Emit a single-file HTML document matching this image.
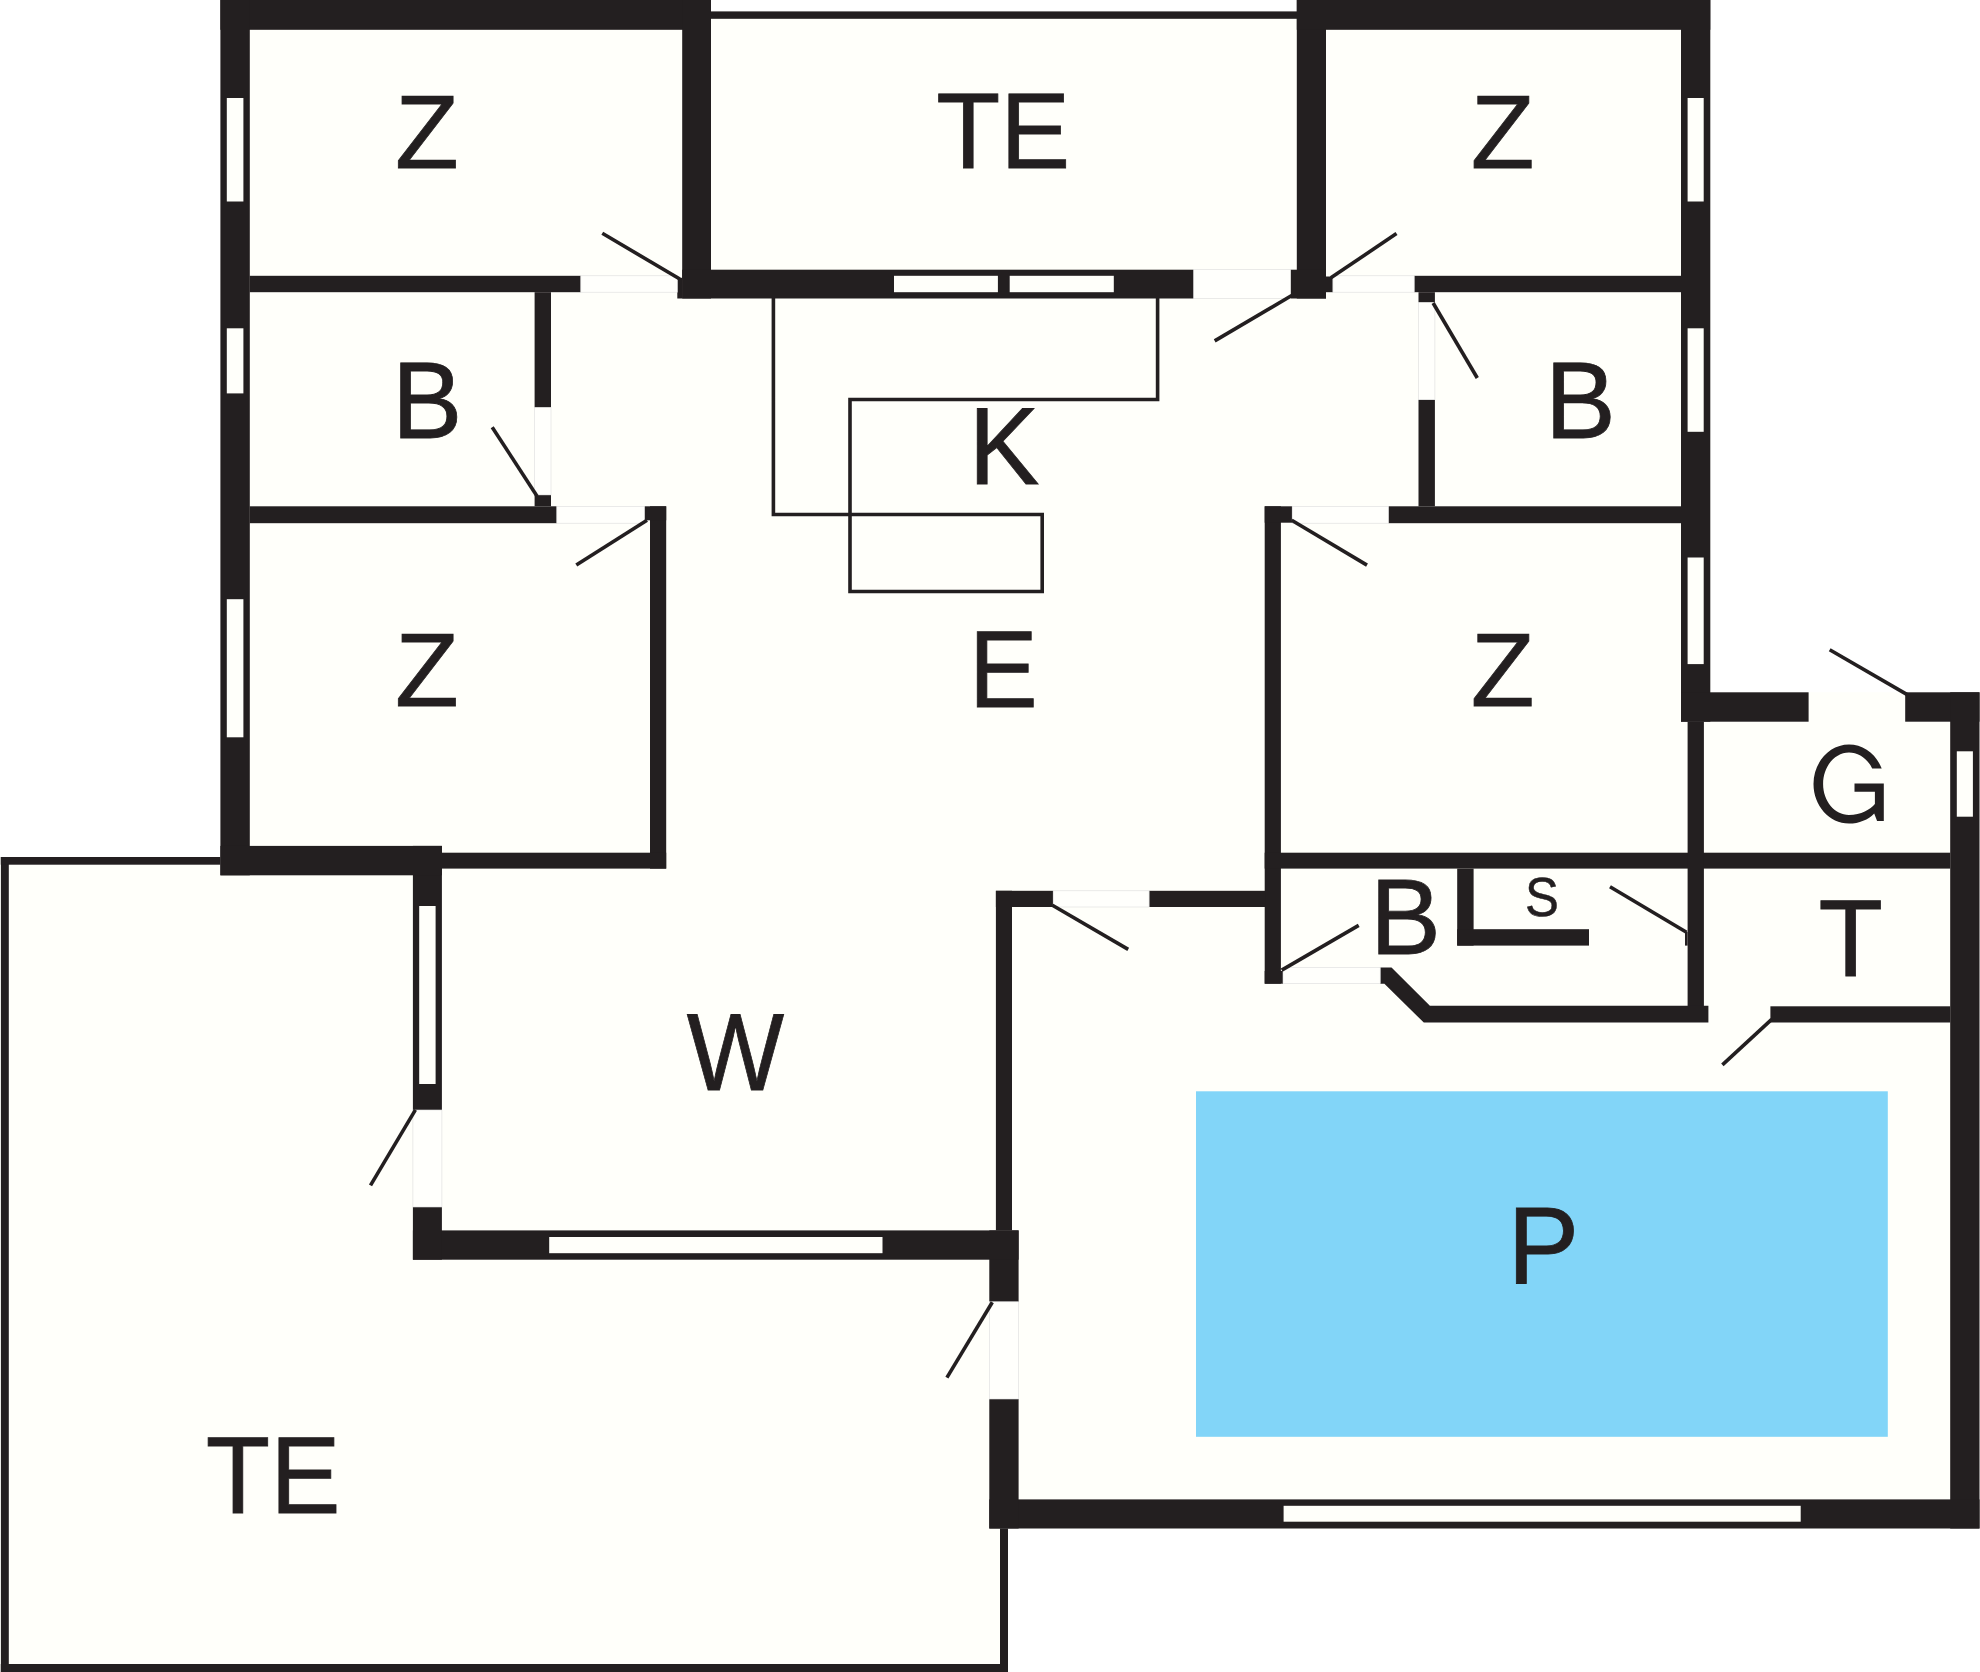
<!DOCTYPE html>
<html><head><meta charset="utf-8"><title>Floor plan</title>
<style>html,body{margin:0;padding:0;background:#fff;}svg{display:block}text{font-family:"Liberation Sans",sans-serif;fill:#231f20;}</style></head><body>
<svg width="1980" height="1672" viewBox="0 0 1980 1672">
<rect width="1980" height="1672" fill="#fff"/>
<polygon fill="#fffffa" points="220.4,0 711,0 711,11.4 1297,11.4 1297,0 1710.3,0 1710.3,692.3 1980,692.3 1980,1528.5 1008,1528.5 1008,1672 0,1672 0,857 220.4,857"/>
<rect x="1196.0" y="1091.3" width="691.8" height="345.5" fill="#82d5f8"/>
<g shape-rendering="auto">
<rect x="220.4" y="0.0" width="490.6" height="29.8" fill="#231f20"/>
<rect x="220.4" y="0.0" width="29.4" height="875.3" fill="#231f20"/>
<rect x="682.2" y="0.0" width="28.8" height="298.5" fill="#231f20"/>
<rect x="682.2" y="269.7" width="511.5" height="28.8" fill="#231f20"/>
<rect x="677.3" y="277.8" width="4.9" height="20.7" fill="#231f20"/>
<rect x="1296.8" y="0.0" width="29.2" height="298.5" fill="#231f20"/>
<rect x="1290.5" y="269.7" width="35.5" height="28.8" fill="#231f20"/>
<rect x="1326.0" y="276.5" width="6.9" height="15.7" fill="#231f20"/>
<rect x="1296.8" y="0.0" width="413.5" height="29.8" fill="#231f20"/>
<rect x="1681.0" y="0.0" width="29.3" height="721.7" fill="#231f20"/>
<rect x="1681.0" y="692.3" width="127.6" height="29.4" fill="#231f20"/>
<rect x="1905.2" y="692.3" width="74.3" height="29.4" fill="#231f20"/>
<rect x="1950.2" y="692.3" width="29.3" height="836.2" fill="#231f20"/>
<rect x="989.3" y="1499.4" width="990.2" height="29.1" fill="#231f20"/>
<rect x="989.3" y="1399.0" width="29.3" height="129.5" fill="#231f20"/>
<rect x="989.3" y="1230.4" width="29.3" height="71.4" fill="#231f20"/>
<rect x="412.9" y="1230.4" width="605.7" height="29.3" fill="#231f20"/>
<rect x="412.9" y="1207.0" width="29.0" height="52.7" fill="#231f20"/>
<rect x="412.9" y="845.9" width="29.0" height="264.1" fill="#231f20"/>
<rect x="220.4" y="845.9" width="221.5" height="29.4" fill="#231f20"/>
<rect x="249.7" y="275.8" width="331.1" height="16.4" fill="#231f20"/>
<rect x="534.6" y="292.2" width="16.4" height="115.3" fill="#231f20"/>
<rect x="534.6" y="494.9" width="16.4" height="11.4" fill="#231f20"/>
<rect x="249.7" y="506.3" width="307.1" height="16.9" fill="#231f20"/>
<rect x="650.0" y="506.3" width="16.2" height="362.3" fill="#231f20"/>
<rect x="644.4" y="506.3" width="21.8" height="14.0" fill="#231f20"/>
<rect x="441.9" y="852.7" width="224.3" height="15.9" fill="#231f20"/>
<rect x="1414.2" y="275.8" width="266.8" height="16.4" fill="#231f20"/>
<rect x="1418.5" y="292.2" width="16.4" height="10.3" fill="#231f20"/>
<rect x="1418.5" y="399.7" width="16.4" height="106.6" fill="#231f20"/>
<rect x="1388.4" y="506.3" width="292.6" height="16.9" fill="#231f20"/>
<rect x="1264.7" y="506.3" width="16.2" height="477.4" fill="#231f20"/>
<rect x="1264.7" y="506.3" width="27.5" height="16.4" fill="#231f20"/>
<rect x="1264.7" y="971.0" width="18.3" height="12.7" fill="#231f20"/>
<rect x="1264.7" y="852.7" width="685.5" height="15.9" fill="#231f20"/>
<rect x="995.9" y="890.8" width="57.3" height="16.2" fill="#231f20"/>
<rect x="1149.1" y="890.8" width="116.2" height="16.2" fill="#231f20"/>
<rect x="995.9" y="890.8" width="16.1" height="339.6" fill="#231f20"/>
<rect x="1457.2" y="868.6" width="16.4" height="77.0" fill="#231f20"/>
<rect x="1457.2" y="929.2" width="131.8" height="16.4" fill="#231f20"/>
<rect x="1687.6" y="721.7" width="16.3" height="284.6" fill="#231f20"/>
<rect x="1685.0" y="931.8" width="2.6" height="13.8" fill="#231f20"/>
<rect x="1770.4" y="1006.3" width="179.8" height="16.2" fill="#231f20"/>
<rect x="711.0" y="11.4" width="586.0" height="7.4" fill="#231f20"/>
<rect x="0.9" y="857.0" width="7.9" height="815.0" fill="#231f20"/>
<rect x="0.8" y="857.0" width="219.5" height="7.7" fill="#231f20"/>
<rect x="0.8" y="1664.0" width="1007.2" height="8.0" fill="#231f20"/>
<rect x="1000.0" y="1528.5" width="8.0" height="143.5" fill="#231f20"/>
<polygon fill="#231f20" points="1380.2,967.6 1391.5,967.6 1429.9,1005.7 1708.4,1005.7 1708.4,1022.6 1423.8,1022.6 1384.4,983.7 1380.2,983.7"/>
</g>
<rect x="226.8" y="98.0" width="16.6" height="103.5" fill="#fffffa"/>
<rect x="226.8" y="328.3" width="16.6" height="65.1" fill="#fffffa"/>
<rect x="226.8" y="599.2" width="16.6" height="138.1" fill="#fffffa"/>
<rect x="1687.6" y="98.0" width="16.1" height="103.5" fill="#fffffa"/>
<rect x="1687.6" y="328.3" width="16.1" height="103.5" fill="#fffffa"/>
<rect x="1687.6" y="557.5" width="16.1" height="106.6" fill="#fffffa"/>
<rect x="1956.8" y="751.3" width="16.1" height="65.4" fill="#fffffa"/>
<rect x="894.0" y="275.8" width="103.9" height="16.4" fill="#fffffa"/>
<rect x="1009.7" y="275.8" width="104.1" height="16.4" fill="#fffffa"/>
<rect x="419.2" y="906.0" width="16.4" height="178.0" fill="#fffffa"/>
<rect x="549.2" y="1237.0" width="333.3" height="16.2" fill="#fffffa"/>
<rect x="1283.6" y="1505.8" width="517.1" height="15.9" fill="#fffffa"/>
<rect x="580.8" y="275.8" width="96.5" height="16.4" fill="#fffffc" stroke="#dcdcdc" stroke-width="0.6"/>
<rect x="534.6" y="407.5" width="16.4" height="87.4" fill="#fffffc" stroke="#dcdcdc" stroke-width="0.6"/>
<rect x="556.8" y="506.3" width="87.6" height="16.9" fill="#fffffc" stroke="#dcdcdc" stroke-width="0.6"/>
<rect x="1193.7" y="269.7" width="96.8" height="28.8" fill="#fffffc" stroke="#dcdcdc" stroke-width="0.6"/>
<rect x="1332.9" y="275.8" width="81.3" height="16.4" fill="#fffffc" stroke="#dcdcdc" stroke-width="0.6"/>
<rect x="1418.5" y="302.5" width="16.4" height="97.2" fill="#fffffc" stroke="#dcdcdc" stroke-width="0.6"/>
<rect x="1292.2" y="506.3" width="96.2" height="16.9" fill="#fffffc" stroke="#dcdcdc" stroke-width="0.6"/>
<rect x="1053.2" y="890.8" width="95.9" height="16.2" fill="#fffffc" stroke="#dcdcdc" stroke-width="0.6"/>
<rect x="1283.0" y="967.6" width="97.2" height="16.1" fill="#fffffc" stroke="#dcdcdc" stroke-width="0.6"/>
<rect x="412.9" y="1110.0" width="29.0" height="97.0" fill="#fffffc" stroke="#dcdcdc" stroke-width="0.6"/>
<rect x="989.3" y="1301.8" width="29.3" height="97.2" fill="#fffffc" stroke="#dcdcdc" stroke-width="0.6"/>
<polyline fill="none" stroke="#231f20" stroke-width="3.6" points="773.4,297 773.4,514.5 1042.2,514.5 1042.2,591.5 850,591.5 850,399.5 1157.6,399.5 1157.6,297"/>
<g stroke="#231f20" stroke-width="3.6" stroke-linecap="butt">
<line x1="602.3" y1="233.3" x2="679.8" y2="279"/>
<line x1="492.2" y1="427.2" x2="537.1" y2="496.2"/>
<line x1="647" y1="520.2" x2="576.3" y2="565.1"/>
<line x1="1214.7" y1="340.9" x2="1291.7" y2="295.5"/>
<line x1="1330.9" y1="277.8" x2="1396.5" y2="233.6"/>
<line x1="1433.1" y1="303" x2="1477.3" y2="378"/>
<line x1="1291.7" y1="520.2" x2="1367" y2="565.1"/>
<line x1="1829.7" y1="649.7" x2="1906.8" y2="694.4"/>
<line x1="1052.4" y1="905.2" x2="1128.2" y2="949.4"/>
<line x1="1281.7" y1="970.1" x2="1358.7" y2="925.4"/>
<line x1="1610" y1="886.8" x2="1686.5" y2="932.2"/>
<line x1="1771.7" y1="1019.4" x2="1722.4" y2="1064.9"/>
<line x1="415.4" y1="1109.8" x2="370.5" y2="1185.3"/>
<line x1="992.3" y1="1302.3" x2="946.9" y2="1377.6"/>
</g>
<text id="t0" font-size="100" stroke="#231f20" stroke-width="0.767" stroke-linejoin="miter" transform="matrix(1.0442 0 0 1.0432 395.04 168.10)">Z</text>
<text id="t1" font-size="100" stroke="#231f20" stroke-width="0.751" stroke-linejoin="miter" transform="matrix(1.0491 0 0 1.0817 936.24 167.90)">TE</text>
<text id="t2" font-size="100" stroke="#231f20" stroke-width="0.767" stroke-linejoin="miter" transform="matrix(1.0442 0 0 1.0432 1470.84 168.10)">Z</text>
<text id="t3" font-size="100" stroke="#231f20" stroke-width="0.744" stroke-linejoin="miter" transform="matrix(1.0560 0 0 1.0933 391.99 437.60)">B</text>
<text id="t4" font-size="100" stroke="#231f20" stroke-width="0.743" stroke-linejoin="miter" transform="matrix(1.0638 0 0 1.0904 968.52 484.10)">K</text>
<text id="t5" font-size="100" stroke="#231f20" stroke-width="0.742" stroke-linejoin="miter" transform="matrix(1.0616 0 0 1.0933 1545.04 437.60)">B</text>
<text id="t6" font-size="100" stroke="#231f20" stroke-width="0.766" stroke-linejoin="miter" transform="matrix(1.0442 0 0 1.0454 395.04 706.30)">Z</text>
<text id="t7" font-size="100" stroke="#231f20" stroke-width="0.754" stroke-linejoin="miter" transform="matrix(1.0346 0 0 1.0875 968.76 706.60)">E</text>
<text id="t8" font-size="100" stroke="#231f20" stroke-width="0.766" stroke-linejoin="miter" transform="matrix(1.0442 0 0 1.0454 1470.84 706.30)">Z</text>
<path id="t9" fill="#231f20" d="M1881.7,768.5 C1876.1,754 1863.2,744.6 1849,744.6 C1829.4,744.6 1813.5,762.2 1813.5,784 C1813.5,805.8 1829.4,823.5 1849,823.5 C1859,823.5 1868.5,819.5 1874.2,813.4 L1877.1,821.1 L1883.8,821.1 L1883.8,783.6 L1854.5,783.6 L1854.5,791.7 L1874.9,791.7 L1874.9,803.9 C1870.5,809 1861,815 1849,815 C1834.7,815 1823.1,801.2 1823.1,784 C1823.1,766.5 1834.7,752.4 1849,752.4 C1858.4,752.4 1867.6,758.6 1872.2,768.5 Z"/>
<text id="t10" font-size="100" stroke="#231f20" stroke-width="0.745" stroke-linejoin="miter" transform="matrix(1.0635 0 0 1.0846 1370.03 954.00)">B</text>
<text id="t11" font-size="100" stroke="#231f20" stroke-width="0.947" stroke-linejoin="miter" transform="matrix(0.5085 0 0 0.5470 1524.96 916.00)">S</text>
<text id="t12" font-size="100" stroke="#231f20" stroke-width="0.747" stroke-linejoin="miter" transform="matrix(1.0549 0 0 1.0875 1818.43 975.60)">T</text>
<text id="t13" font-size="100" stroke="#231f20" stroke-width="0.755" stroke-linejoin="miter" transform="matrix(1.0310 0 0 1.0889 686.68 1090.40)">W</text>
<text id="t14" font-size="100" stroke="#231f20" stroke-width="0.736" stroke-linejoin="miter" transform="matrix(1.0748 0 0 1.0991 1507.43 1282.90)">P</text>
<text id="t15" font-size="100" stroke="#231f20" stroke-width="0.747" stroke-linejoin="miter" transform="matrix(1.0540 0 0 1.0875 205.83 1513.40)">TE</text>
</svg></body></html>
